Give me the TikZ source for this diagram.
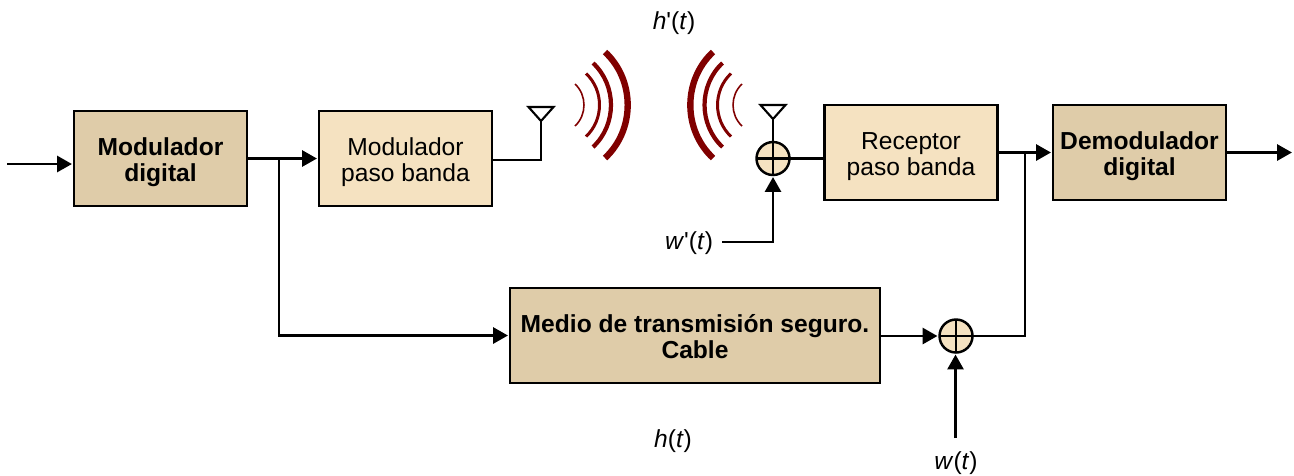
\documentclass[tikz,border=0pt]{standalone}
\usepackage{fontspec}
\setmainfont{Liberation Sans}
\usetikzlibrary{arrows.meta}
\definecolor{boxdark}{HTML}{DFCCA9}
\definecolor{boxlight}{HTML}{F5E2C1}
\definecolor{wavered}{HTML}{800000}
\newcommand{\sig}[2]{\textit{#1}\textquotesingle(\textit{#2})}
\newcommand{\signp}[2]{\textit{#1}(\textit{#2})}
\newcommand{\low}{\rule{0pt}{7.4pt}}

\begin{document}
\begin{tikzpicture}[font=\fontsize{7}{7.4}\selectfont,
    dnode/.style={draw,line width=0.8pt,fill=boxdark,align=center,outer sep=0pt,inner sep=0pt,minimum width=1.73cm,minimum height=0.95cm,font=\fontsize{7}{7.4}\selectfont\bfseries},
    lnode/.style={draw,line width=0.7pt,fill=boxlight,align=center,outer sep=0pt,inner sep=0pt,minimum width=1.73cm,minimum height=0.95cm},
    snode/.style={draw,circle,line width=0.7pt,fill=boxlight,outer sep=0pt,inner sep=0pt,minimum size=0.33cm,path picture={
        \draw[line width=0.6pt] (path picture bounding box.north) -- (path picture bounding box.south);
        \draw[line width=0.6pt] (path picture bounding box.west) -- (path picture bounding box.east);}},
    wire/.style={line width=0.6pt},
    arrow/.style={wire,-{Triangle[length=4.2pt,width=4.6pt]},shorten >=0.6pt}]
    \useasboundingbox (0,0) rectangle (12.94,4.75);

    \node[dnode] (md) at (1.605,3.165) {\low Modulador\\digital};
    \node[lnode] (mp) at (4.055,3.165) {\low Modulador\\paso banda};
    \node[lnode] (rp) at (9.11,3.225) {\low Receptor\\paso banda};
    \node[dnode] (dd) at (11.395,3.225) {\low Demodulador\\digital};
    \node[dnode,minimum width=3.7cm] (ms) at (6.95,1.395) {\rule{0pt}{6pt}Medio de transmisión seguro.\\Cable};
    \node[snode] (s1) at (7.73,3.165) {};
    \node[snode] (s2) at (9.56,1.39) {};

    \node (ht1) at (6.74,4.52) {\sig{h}{t}};
    \node (wt1) at (6.89,2.32) {\sig{w}{t}};
    \node (ht2) at (6.73,0.34) {\signp{h}{t}};
    \node (wt2) at (9.56,0.12) {\signp{w}{t}};

    \coordinate (in) at (0.07,3.11);
    \coordinate (out) at (12.94,3.225);
    \coordinate (b1) at (2.79,3.165);
    \coordinate (b2) at (10.25,3.225);
    \coordinate (a1) at (5.41,3.54);
    \coordinate (a2) at (7.73,3.56);
    \coordinate (w1) at (7.22,2.33);
    \coordinate (w2) at (9.555,0.37);

    \draw[arrow] (in) -- (md.west |- in);
    \draw[arrow] (md) -- (mp);
    \draw[arrow] (b1) |- (ms.west);
    \draw[wire] (mp.east |- 0,3.15) -| (a1);
    \draw[wire] (a1) -- ++(-0.125,0.14) -- ++(0.25,0) -- cycle;
    \draw[wire] (a2) -- ++(-0.125,0.14) -- ++(0.25,0) -- cycle;
    \draw[wire] (a2) -- (s1);
    \draw[wire] (s1) -- (s1 -| rp.west);
    \draw[arrow] (w1) -| (s1);
    \draw[arrow] (rp) -- (dd);
    \draw[arrow] (dd) -- (out);
    \draw[arrow] (ms.east |- s2) -- (s2);
    \draw[wire] (s2) -| (b2);
    \draw[arrow] (w2) -- (w2 |- s2.south);

   \begin{scope}[wavered]
    \foreach \xa/\xh/\lw in {6.05/0.53/1.8pt, 5.93/0.42/1.2pt, 5.86/0.315/0.85pt, 5.75/0.21/0.45pt}
      \draw[line width=\lw] (\xa,3.7+\xh) to[bend left=47] (\xa,3.7-\xh);
    \foreach \xa/\xh/\lw in {7.13/0.53/1.8pt, 7.225/0.42/1.2pt, 7.31/0.315/0.85pt, 7.42/0.21/0.45pt}
      \draw[line width=\lw] (\xa,3.7+\xh) to[bend right=47] (\xa,3.7-\xh);
   \end{scope}
\end{tikzpicture}
\end{document}
